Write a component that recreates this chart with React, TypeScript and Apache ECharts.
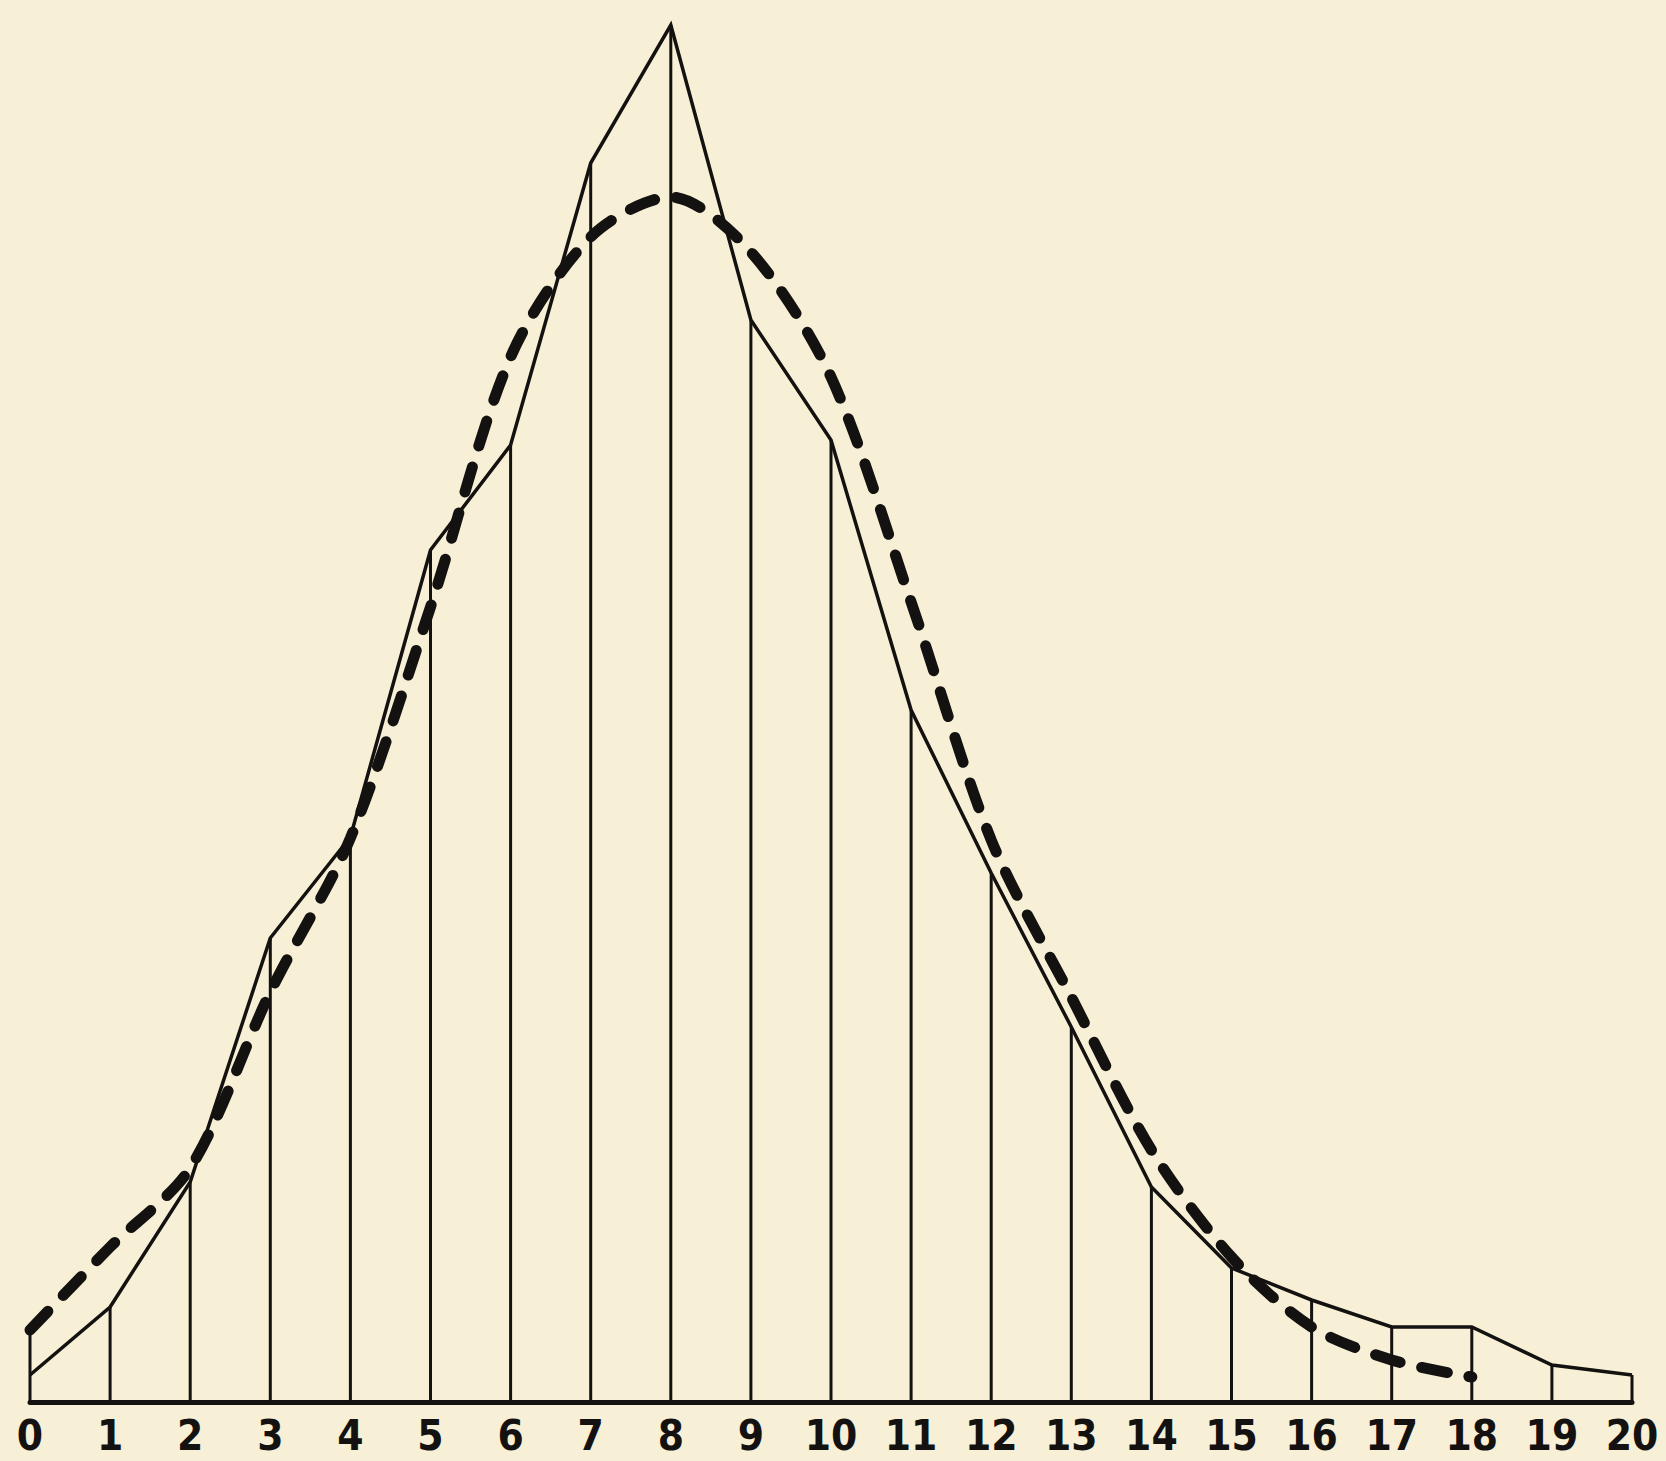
import React, { useEffect, useRef } from "react";
import * as echarts from "echarts";

// Class values on the x axis (0..20)
const classes: number[] = [0, 1, 2, 3, 4, 5, 6, 7, 8, 9, 10, 11, 12, 13, 14, 15, 16, 17, 18, 19, 20];

const observed: number[] = [2.7, 9.5, 22.0, 46.4, 56.5, 85.2, 95.7, 123.9, 137.7, 108.2, 96.2, 69.2, 52.9, 37.5, 21.5, 13.4, 10.2, 7.5, 7.5, 3.7, 2.7];

// Fitted curve (dashed), classes 0..18
const fittedClasses: number[] = [0, 1, 2, 3, 4, 5, 6, 7, 8, 9, 10, 11, 12, 13, 14, 15, 16, 17, 18];
const fitted: number[] = [7.2, 15.5, 23.4, 41.0, 56.4, 79.5, 104.5, 116.5, 120.5, 115.0, 102.5, 80.0, 56.2, 40.5, 25.2, 14.5, 7.5, 4.2, 2.5];

const INK = "#141210";
const PAPER = "#f7efd6";

export default function App() {
  const ref = useRef<HTMLDivElement>(null);

  useEffect(() => {
    if (!ref.current) return;
    const chart = echarts.init(ref.current, null, { renderer: "svg" });

    // ordinate heights: at class 0 the vertical rises to the fitted curve's start
    const ordinates = classes.map((c, i) => [c, i === 0 ? Math.max(observed[0], fitted[0]) : observed[i]]);

    chart.setOption({
      animation: false,
      backgroundColor: PAPER,
      grid: { left: 30, right: 34, top: 2, bottom: 59, containLabel: false },
      xAxis: {
        type: "value",
        min: 0,
        max: 20,
        interval: 1,
        axisLine: { show: true, onZero: false, lineStyle: { color: INK, width: 5 } },
        axisTick: { show: false },
        splitLine: { show: false },
        axisLabel: {
          color: INK,
          fontSize: 42,
          fontWeight: "bold",
          fontFamily: "'DejaVu Sans Condensed', 'DejaVu Sans', sans-serif",
          margin: 12,
          showMinLabel: true,
          showMaxLabel: true,
        },
      },
      yAxis: {
        type: "value",
        min: 0,
        max: 140,
        show: false,
      },
      series: [
        {
          type: "custom",
          clip: false,
          data: ordinates,
          encode: { x: 0, y: 1 },
          renderItem: (params: any, api: any) => {
            const x = api.value(0);
            const v = api.value(1);
            const p0 = api.coord([x, 0]);
            const p1 = api.coord([x, v]);
            return {
              type: "line",
              shape: { x1: p0[0], y1: p0[1], x2: p1[0], y2: p1[1] },
              style: { stroke: INK, lineWidth: 3 },
            };
          },
          z: 1,
        },
        {
          type: "line",
          data: classes.map((c, i) => [c, observed[i]]),
          symbol: "none",
          clip: false,
          lineStyle: { color: INK, width: 3.5, join: "miter" },
          z: 2,
        },
        {
          type: "line",
          data: fittedClasses.map((c, i) => [c, fitted[i]]),
          symbol: "none",
          smooth: 0.3,
          clip: false,
          lineStyle: { color: INK, width: 11, type: [26, 22], cap: "round" },
          z: 3,
        },
      ],
    });

    return () => chart.dispose();
  }, []);

  return (
    <div
      ref={ref}
      style={{ position: "absolute", left: 0, top: 0, width: 1666, height: 1461 }}
    />
  );
}
